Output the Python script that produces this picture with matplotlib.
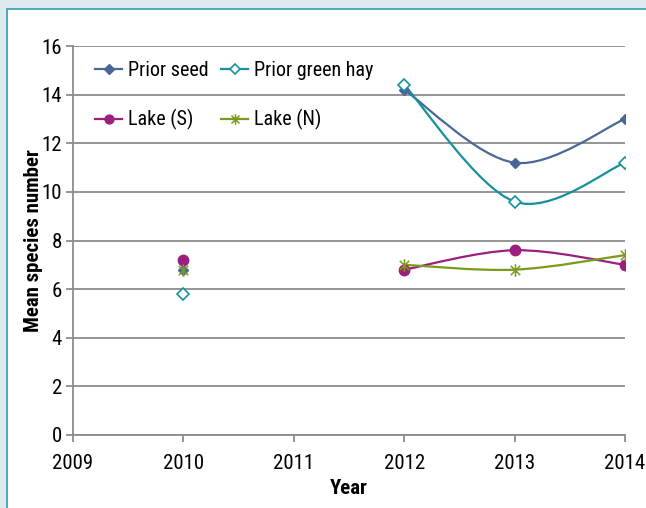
import matplotlib
matplotlib.use("Agg")
import matplotlib.pyplot as plt
from matplotlib.path import Path
from matplotlib.patches import PathPatch, Rectangle

plt.rcParams['font.family'] = ['Roboto Condensed', 'DejaVu Sans']
plt.rcParams['font.stretch'] = 'condensed'

# values (2011 has no data)
years = [2010, 2012, 2013, 2014]
prior_seed = [6.8, 14.2, 11.2, 13.0]
prior_green_hay = [5.8, 14.4, 9.6, 11.2]
lake_s = [7.2, 6.8, 7.6, 7.0]
lake_n = [6.8, 7.0, 6.8, 7.4]

# Excel "star" marker: an X with a vertical bar
star = Path([(0, -1), (0, 1), (-0.75, -0.75), (0.75, 0.75), (-0.75, 0.75), (0.75, -0.75)],
            [Path.MOVETO, Path.LINETO] * 3)

series = [
    ("Prior seed", prior_seed, "#4a6795", dict(marker="D", markersize=5.5, markerfacecolor="#4a6795")),
    ("Prior green hay", prior_green_hay, "#17909e", dict(marker="D", markersize=6.5, markerfacecolor="white", markeredgewidth=1.2)),
    ("Lake (S)", lake_s, "#9c1f7e", dict(marker="o", markersize=7.5, markerfacecolor="#9c1f7e")),
    ("Lake (N)", lake_n, "#7a9a19", dict(marker=star, markersize=9, markeredgewidth=1.1)),
]


def smooth_path(xs, ys):
    # Excel-like smoothed line: cubic bezier through the points
    pts = list(zip(xs, ys))
    n = len(pts)
    verts = [pts[0]]
    codes = [Path.MOVETO]
    for i in range(n - 1):
        p0 = pts[i - 1] if i > 0 else pts[i]
        p1, p2 = pts[i], pts[i + 1]
        p3 = pts[i + 2] if i + 2 < n else pts[i + 1]
        c1 = (p1[0] + (p2[0] - p0[0]) / 6, p1[1] + (p2[1] - p0[1]) / 6)
        c2 = (p2[0] - (p3[0] - p1[0]) / 6, p2[1] - (p3[1] - p1[1]) / 6)
        verts += [c1, c2, p2]
        codes += [Path.CURVE4] * 3
    return Path(verts, codes)


fig = plt.figure(figsize=(6.46, 5.08), dpi=100, facecolor="#dde9ef")
fig.patches.append(Rectangle((7 / 646, -0.05), 1.1, 1 - 9 / 508 + 0.05, transform=fig.transFigure,
                             facecolor="white", edgecolor="#3fa3b6", linewidth=1.3, zorder=-5))

ax = fig.add_axes([73 / 646, 1 - 435 / 508, 552 / 646, 389 / 508])
ax.set_facecolor("none")

handles = {}
for name, vals, color, mk in series:
    # lone 2010 point, then the connected 2012-2014 run
    ax.plot(years[:1], vals[:1], linestyle="none", color=color, markeredgecolor=color, zorder=3, **mk)
    ax.add_patch(PathPatch(smooth_path(years[1:], vals[1:]), facecolor="none", edgecolor=color,
                           linewidth=1.6, zorder=2))
    ax.plot(years[1:], vals[1:], linestyle="none", color=color, markeredgecolor=color, zorder=3, **mk)
    handles[name], = ax.plot([], [], color=color, linewidth=1.6, markeredgecolor=color, **mk)

ax.set_xlim(2009, 2014)
ax.set_ylim(0, 16)
ax.set_xticks(range(2009, 2015))
ax.set_yticks(range(0, 17, 2))
ax.grid(axis="y", color="#8c8c8c", linewidth=1.3)
ax.set_axisbelow(True)
for s in ["top", "right"]:
    ax.spines[s].set_visible(False)
for s in ["left", "bottom"]:
    ax.spines[s].set_color("#8c8c8c")
    ax.spines[s].set_linewidth(1.3)
ax.tick_params(colors="#8c8c8c", labelcolor="black", labelsize=15, width=1.3, length=5)
ax.tick_params(axis="y", pad=3)
ax.tick_params(axis="x", pad=9)

ax.set_xlabel("Year", fontsize=15, fontweight="bold", labelpad=4)
ax.set_ylabel("Mean species number", fontsize=15, fontweight="bold", labelpad=-1)

# legend fills column-wise, so order gives rows: seed/green hay, Lake S/Lake N
order = ["Prior seed", "Lake (S)", "Prior green hay", "Lake (N)"]
ax.legend([handles[k] for k in order], order, ncol=2, frameon=False, loc="upper left",
          bbox_to_anchor=(0.04, 0.961), fontsize=14.5, borderpad=0, borderaxespad=0,
          handlelength=1.35, handletextpad=0.3, columnspacing=0.6, labelspacing=1.45,
          markerscale=0.85)

fig.savefig("out.png", dpi=100, facecolor=fig.get_facecolor())
